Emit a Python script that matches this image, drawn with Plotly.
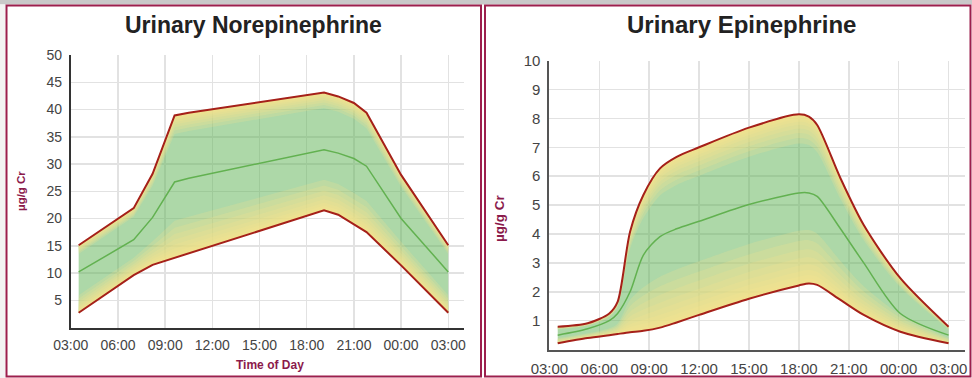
import plotly.graph_objects as go
import numpy as np

# ---------------- data ----------------
tick_hours = [0, 3, 6, 9, 12, 15, 18, 21, 24]
tick_labels = ["03:00", "06:00", "09:00", "12:00", "15:00", "18:00", "21:00", "00:00", "03:00"]

# Urinary Norepinephrine (µg/g Cr), hours after 03:00
ne_hours = [0.5, 4.0, 5.2, 6.6, 7.5, 16.1, 17.0, 18.0, 18.8, 21.0, 24.0]
ne_upper = [15.1, 21.9, 28.2, 38.9, 39.4, 43.1, 42.4, 41.2, 39.4, 28.0, 15.1]
ne_median = [10.2, 16.1, 20.2, 26.7, 27.4, 32.6, 32.0, 31.0, 29.6, 20.0, 10.2]
ne_lower = [2.7, 9.6, 11.5, 12.8, 13.6, 21.5, 20.7, 18.9, 17.5, 11.4, 2.7]
ne_yticks = [5, 10, 15, 20, 25, 30, 35, 40, 45, 50]

# Urinary Epinephrine (µg/g Cr)
ep_hours = [0.5, 2.3, 3.6, 4.1, 4.85, 5.65, 6.65, 7.65, 9.0, 12.0, 15.0, 15.6, 16.1, 17.5, 18.9, 21.1, 24.0]
ep_upper = [0.79, 0.91, 1.25, 1.65, 4.08, 5.35, 6.27, 6.67, 7.0, 7.68, 8.14, 8.06, 7.77, 5.93, 4.31, 2.47, 0.79]
ep_median = [0.5, 0.72, 1.0, 1.25, 2.0, 3.27, 3.91, 4.18, 4.44, 5.02, 5.42, 5.42, 5.3, 4.18, 3.0, 1.25, 0.5]
ep_lower = [0.22, 0.4, 0.5, 0.54, 0.6, 0.65, 0.76, 0.94, 1.2, 1.76, 2.22, 2.29, 2.24, 1.72, 1.2, 0.62, 0.22]
ep_yticks = [1, 2, 3, 4, 5, 6, 7, 8, 9, 10]

# ---------------- styles ----------------
W, H = 972, 378
FONT = "Liberation Sans, Arial, sans-serif"
MAROON = "#9C1F4D"
LABEL_COLOR = "#8B1A4B"
RED_LINE = "#A52019"
GREEN_LINE = "#62B150"
GREEN_FILL = "rgba(100,182,90,0.53)"
YELLOW_FILL = "rgba(250,227,140,0.22)"


def px_x(p):
    return p / W


def px_y(p):
    return 1 - p / H


fig = go.Figure()


def add_band(x, lo, hi, xa, ya, shape, s_bot, s_top, n=10):
    lo = np.array(lo, dtype=float)
    hi = np.array(hi, dtype=float)
    line_kw = dict(width=0, shape=shape)
    if shape == "spline":
        line_kw["smoothing"] = 0.8
    common = dict(x=x, xaxis=xa, yaxis=ya, mode="lines", line=line_kw,
                  hoverinfo="skip", showlegend=False)
    # base green band
    fig.add_trace(go.Scatter(y=lo, **common))
    fig.add_trace(go.Scatter(y=hi, fill="tonexty", fillcolor=GREEN_FILL, **common))
    # yellow overlays near the lower edge (denser close to the edge)
    for k in range(1, n + 1):
        s = s_bot * (k / n) ** 2
        fig.add_trace(go.Scatter(y=lo, **common))
        fig.add_trace(go.Scatter(y=lo + s * (hi - lo), fill="tonexty", fillcolor=YELLOW_FILL, **common))
    # yellow overlays near the upper edge
    for k in range(1, n + 1):
        s = s_top * (k / n) ** 2
        fig.add_trace(go.Scatter(y=hi - s * (hi - lo), **common))
        fig.add_trace(go.Scatter(y=hi, fill="tonexty", fillcolor=YELLOW_FILL, **common))


def add_lines(x, lo, med, hi, xa, ya, shape):
    lk = dict(shape=shape)
    if shape == "spline":
        lk["smoothing"] = 0.8
    for y, c, w in [(lo, RED_LINE, 2), (hi, RED_LINE, 2), (med, GREEN_LINE, 1.5)]:
        fig.add_trace(go.Scatter(x=x, y=y, xaxis=xa, yaxis=ya, mode="lines",
                                 line=dict(color=c, width=w, **lk),
                                 hoverinfo="skip", showlegend=False))


add_band(ne_hours, ne_lower, ne_upper, "x", "y", "linear", 0.26, 0.13)
add_lines(ne_hours, ne_lower, ne_median, ne_upper, "x", "y", "linear")
add_band(ep_hours, ep_lower, ep_upper, "x2", "y2", "spline", 0.32, 0.17)
add_lines(ep_hours, ep_lower, ep_median, ep_upper, "x2", "y2", "spline")

grid = "#e2e2e2"


def xaxis(domain, anchor, size, axcol):
    return dict(domain=domain, anchor=anchor, range=[0, 25], tickmode="array",
                tickvals=tick_hours, ticktext=tick_labels, showgrid=True,
                gridcolor=grid, gridwidth=1.5, zeroline=False, showline=True,
                linecolor=axcol, linewidth=2, ticks="outside", ticklen=4,
                tickcolor="rgba(0,0,0,0)", tickfont=dict(family=FONT, size=size, color="#444"),
                fixedrange=True, automargin=False)


def yaxis(domain, anchor, rng, tv, size, axcol):
    return dict(domain=domain, anchor=anchor, range=rng, tickmode="array",
                tickvals=tv, showgrid=True, gridcolor=grid, gridwidth=1.5,
                zeroline=False, showline=True, linecolor=axcol, linewidth=2,
                ticks="outside", ticklen=4, tickcolor="rgba(0,0,0,0)",
                tickfont=dict(family=FONT, size=size, color="#444"), fixedrange=True,
                automargin=False)


fig.update_layout(
    width=W, height=H, autosize=False,
    margin=dict(l=0, r=0, t=0, b=0, pad=0),
    paper_bgcolor="white", plot_bgcolor="white",
    showlegend=False,
    xaxis=xaxis([px_x(70.8), px_x(464)], "y", 14, "#333"),
    yaxis=yaxis([px_y(327.5), px_y(55)], "x", [0, 50], ne_yticks, 14, "#333"),
    xaxis2=xaxis([px_x(549.4), px_x(965.2)], "y2", 15, "#555"),
    yaxis2=yaxis([px_y(349.6), px_y(60.6)], "x2", [0, 10], ep_yticks, 15, "#555"),
)

shapes = [
    dict(type="rect", xref="paper", yref="paper", x0=0, x1=1, y0=px_y(4.5), y1=1,
         fillcolor="#c9c9c9", line=dict(width=0), layer="below"),
    dict(type="rect", xref="paper", yref="paper", x0=0, x1=px_x(5), y0=0, y1=px_y(4.5),
         fillcolor="#f3f3f3", line=dict(width=0), layer="below"),
    dict(type="rect", xref="paper", yref="paper", x0=px_x(6.5), x1=px_x(481),
         y0=px_y(376.5), y1=px_y(5.5), line=dict(color=MAROON, width=2)),
    dict(type="rect", xref="paper", yref="paper", x0=px_x(485), x1=px_x(970.5),
         y0=px_y(376.5), y1=px_y(5.5), line=dict(color=MAROON, width=2)),
]
fig.update_layout(shapes=shapes)

ann = [
    dict(text="<b>Urinary Norepinephrine</b>", x=px_x(253), y=px_y(25),
         font=dict(family=FONT, size=23, color="#222")),
    dict(text="<b>Urinary Epinephrine</b>", x=px_x(741), y=px_y(24.5),
         font=dict(family=FONT, size=24, color="#222")),
    dict(text="<b>µg/g Cr</b>", x=px_x(21), y=px_y(191), textangle=-90,
         font=dict(family=FONT, size=11.5, color=LABEL_COLOR)),
    dict(text="<b>µg/g Cr</b>", x=px_x(499), y=px_y(218), textangle=-90,
         font=dict(family=FONT, size=13.5, color=LABEL_COLOR)),
    dict(text="<b>Time of Day</b>", x=px_x(270), y=px_y(364.5),
         font=dict(family=FONT, size=12, color=LABEL_COLOR)),
]
for a in ann:
    a.update(xref="paper", yref="paper", xanchor="center", yanchor="middle", showarrow=False)
fig.update_layout(annotations=ann)

fig.write_html(
    "out.html",
    config={"displayModeBar": False, "staticPlot": True},
    post_script="document.body.style.margin='0';document.body.style.padding='0';"
                "document.body.style.overflow='hidden';",
)
